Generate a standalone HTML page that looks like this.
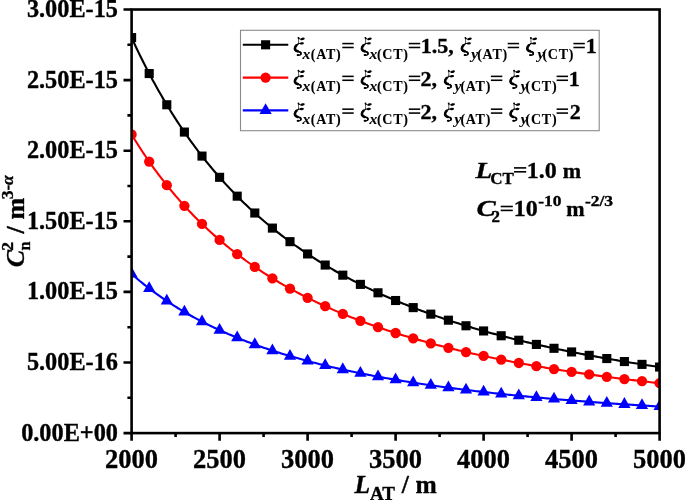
<!DOCTYPE html>
<html><head><meta charset="utf-8"><style>
html,body{margin:0;padding:0;background:#fff;width:685px;height:500px;overflow:hidden}
svg{display:block;will-change:transform}
text{font-family:"Liberation Serif",serif;font-weight:bold;stroke:#000;stroke-width:0.35px}
</style></head><body>
<svg width="685" height="500" viewBox="0 0 685 500">
<defs><clipPath id="pc"><rect x="131.60" y="9.50" width="528.00" height="423.60"/></clipPath></defs>

<g clip-path="url(#pc)">
<polyline fill="none" stroke="#000000" stroke-width="2.1" stroke-linejoin="round" points="131.60,37.60 133.36,41.43 135.12,45.21 136.88,48.93 138.64,52.60 140.40,56.22 142.16,59.78 143.92,63.30 145.68,66.76 147.44,70.18 149.20,73.55 150.96,76.87 152.72,80.14 154.48,83.37 156.24,86.55 158.00,89.69 159.76,92.79 161.52,95.85 163.28,98.86 165.04,101.84 166.80,104.77 168.56,107.67 170.32,110.52 172.08,113.34 173.84,116.13 175.60,118.87 177.36,121.58 179.12,124.25 180.88,126.89 182.64,129.50 184.40,132.07 186.16,134.61 187.92,137.12 189.68,139.60 191.44,142.04 193.20,144.46 194.96,146.84 196.72,149.19 198.48,151.52 200.24,153.81 202.00,156.08 203.76,158.32 205.52,160.54 207.28,162.72 209.04,164.88 210.80,167.02 212.56,169.12 214.32,171.21 216.08,173.27 217.84,175.30 219.60,177.31 221.36,179.30 223.12,181.26 224.88,183.20 226.64,185.12 228.40,187.01 230.16,188.89 231.92,190.74 233.68,192.57 235.44,194.38 237.20,196.17 238.96,197.94 240.72,199.69 242.48,201.42 244.24,203.13 246.00,204.82 247.76,206.50 249.52,208.15 251.28,209.79 253.04,211.41 254.80,213.01 256.56,214.59 258.32,216.16 260.08,217.71 261.84,219.24 263.60,220.75 265.36,222.25 267.12,223.74 268.88,225.21 270.64,226.66 272.40,228.10 274.16,229.52 275.92,230.93 277.68,232.32 279.44,233.70 281.20,235.06 282.96,236.41 284.72,237.75 286.48,239.07 288.24,240.38 290.00,241.68 291.76,242.96 293.52,244.23 295.28,245.49 297.04,246.73 298.80,247.96 300.56,249.18 302.32,250.39 304.08,251.58 305.84,252.77 307.60,253.94 309.36,255.10 311.12,256.25 312.88,257.39 314.64,258.51 316.40,259.63 318.16,260.74 319.92,261.83 321.68,262.92 323.44,263.99 325.20,265.05 326.96,266.11 328.72,267.15 330.48,268.18 332.24,269.21 334.00,270.22 335.76,271.23 337.52,272.22 339.28,273.21 341.04,274.19 342.80,275.16 344.56,276.12 346.32,277.07 348.08,278.01 349.84,278.94 351.60,279.87 353.36,280.78 355.12,281.69 356.88,282.59 358.64,283.48 360.40,284.37 362.16,285.25 363.92,286.11 365.68,286.97 367.44,287.83 369.20,288.67 370.96,289.51 372.72,290.34 374.48,291.17 376.24,291.98 378.00,292.79 379.76,293.59 381.52,294.39 383.28,295.18 385.04,295.96 386.80,296.74 388.56,297.50 390.32,298.27 392.08,299.02 393.84,299.77 395.60,300.51 397.36,301.25 399.12,301.98 400.88,302.71 402.64,303.43 404.40,304.14 406.16,304.84 407.92,305.54 409.68,306.24 411.44,306.93 413.20,307.61 414.96,308.29 416.72,308.96 418.48,309.63 420.24,310.29 422.00,310.95 423.76,311.60 425.52,312.24 427.28,312.89 429.04,313.52 430.80,314.15 432.56,314.78 434.32,315.40 436.08,316.01 437.84,316.62 439.60,317.23 441.36,317.83 443.12,318.43 444.88,319.02 446.64,319.60 448.40,320.19 450.16,320.77 451.92,321.34 453.68,321.91 455.44,322.47 457.20,323.03 458.96,323.59 460.72,324.14 462.48,324.69 464.24,325.23 466.00,325.77 467.76,326.31 469.52,326.84 471.28,327.37 473.04,327.89 474.80,328.41 476.56,328.93 478.32,329.44 480.08,329.95 481.84,330.45 483.60,330.95 485.36,331.45 487.12,331.94 488.88,332.43 490.64,332.92 492.40,333.40 494.16,333.88 495.92,334.35 497.68,334.83 499.44,335.29 501.20,335.76 502.96,336.22 504.72,336.68 506.48,337.14 508.24,337.59 510.00,338.04 511.76,338.48 513.52,338.93 515.28,339.36 517.04,339.80 518.80,340.23 520.56,340.66 522.32,341.09 524.08,341.52 525.84,341.94 527.60,342.36 529.36,342.77 531.12,343.18 532.88,343.59 534.64,344.00 536.40,344.41 538.16,344.81 539.92,345.21 541.68,345.60 543.44,346.00 545.20,346.39 546.96,346.77 548.72,347.16 550.48,347.54 552.24,347.92 554.00,348.30 555.76,348.68 557.52,349.05 559.28,349.42 561.04,349.79 562.80,350.15 564.56,350.51 566.32,350.87 568.08,351.23 569.84,351.59 571.60,351.94 573.36,352.29 575.12,352.64 576.88,352.99 578.64,353.33 580.40,353.67 582.16,354.01 583.92,354.35 585.68,354.69 587.44,355.02 589.20,355.35 590.96,355.68 592.72,356.01 594.48,356.33 596.24,356.65 598.00,356.98 599.76,357.29 601.52,357.61 603.28,357.93 605.04,358.24 606.80,358.55 608.56,358.86 610.32,359.16 612.08,359.47 613.84,359.77 615.60,360.07 617.36,360.37 619.12,360.67 620.88,360.97 622.64,361.26 624.40,361.55 626.16,361.84 627.92,362.13 629.68,362.42 631.44,362.70 633.20,362.99 634.96,363.27 636.72,363.55 638.48,363.83 640.24,364.10 642.00,364.38 643.76,364.65 645.52,364.92 647.28,365.19 649.04,365.46 650.80,365.73 652.56,365.99 654.32,366.25 656.08,366.52 657.84,366.78 659.60,367.04"/>
<g fill="#000000"><rect x="127.05" y="33.05" width="9.10" height="9.10"/><rect x="144.65" y="69.00" width="9.10" height="9.10"/><rect x="162.25" y="100.22" width="9.10" height="9.10"/><rect x="179.85" y="127.52" width="9.10" height="9.10"/><rect x="197.45" y="151.53" width="9.10" height="9.10"/><rect x="215.05" y="172.76" width="9.10" height="9.10"/><rect x="232.65" y="191.62" width="9.10" height="9.10"/><rect x="250.25" y="208.46" width="9.10" height="9.10"/><rect x="267.85" y="223.55" width="9.10" height="9.10"/><rect x="285.45" y="237.13" width="9.10" height="9.10"/><rect x="303.05" y="249.39" width="9.10" height="9.10"/><rect x="320.65" y="260.50" width="9.10" height="9.10"/><rect x="338.25" y="270.61" width="9.10" height="9.10"/><rect x="355.85" y="279.82" width="9.10" height="9.10"/><rect x="373.45" y="288.24" width="9.10" height="9.10"/><rect x="391.05" y="295.96" width="9.10" height="9.10"/><rect x="408.65" y="303.06" width="9.10" height="9.10"/><rect x="426.25" y="309.60" width="9.10" height="9.10"/><rect x="443.85" y="315.64" width="9.10" height="9.10"/><rect x="461.45" y="321.22" width="9.10" height="9.10"/><rect x="479.05" y="326.40" width="9.10" height="9.10"/><rect x="496.65" y="331.21" width="9.10" height="9.10"/><rect x="514.25" y="335.68" width="9.10" height="9.10"/><rect x="531.85" y="339.86" width="9.10" height="9.10"/><rect x="549.45" y="343.75" width="9.10" height="9.10"/><rect x="567.05" y="347.39" width="9.10" height="9.10"/><rect x="584.65" y="350.80" width="9.10" height="9.10"/><rect x="602.25" y="354.00" width="9.10" height="9.10"/><rect x="619.85" y="357.00" width="9.10" height="9.10"/><rect x="637.45" y="359.83" width="9.10" height="9.10"/><rect x="655.05" y="362.49" width="9.10" height="9.10"/></g>
<polyline fill="none" stroke="#ff0000" stroke-width="2.1" stroke-linejoin="round" points="131.60,134.46 133.36,137.36 135.12,140.21 136.88,143.02 138.64,145.79 140.40,148.52 142.16,151.21 143.92,153.87 145.68,156.48 147.44,159.06 149.20,161.60 150.96,164.11 152.72,166.58 154.48,169.02 156.24,171.43 158.00,173.80 159.76,176.14 161.52,178.45 163.28,180.72 165.04,182.97 166.80,185.18 168.56,187.37 170.32,189.53 172.08,191.66 173.84,193.76 175.60,195.83 177.36,197.88 179.12,199.89 180.88,201.89 182.64,203.86 184.40,205.80 186.16,207.72 187.92,209.61 189.68,211.48 191.44,213.33 193.20,215.15 194.96,216.95 196.72,218.73 198.48,220.48 200.24,222.22 202.00,223.93 203.76,225.62 205.52,227.29 207.28,228.94 209.04,230.57 210.80,232.18 212.56,233.78 214.32,235.35 216.08,236.90 217.84,238.44 219.60,239.96 221.36,241.46 223.12,242.94 224.88,244.40 226.64,245.85 228.40,247.28 230.16,248.70 231.92,250.10 233.68,251.48 235.44,252.85 237.20,254.20 238.96,255.53 240.72,256.86 242.48,258.16 244.24,259.45 246.00,260.73 247.76,261.99 249.52,263.24 251.28,264.48 253.04,265.70 254.80,266.91 256.56,268.11 258.32,269.29 260.08,270.46 261.84,271.62 263.60,272.76 265.36,273.89 267.12,275.01 268.88,276.12 270.64,277.22 272.40,278.30 274.16,279.38 275.92,280.44 277.68,281.49 279.44,282.53 281.20,283.56 282.96,284.58 284.72,285.59 286.48,286.59 288.24,287.58 290.00,288.56 291.76,289.53 293.52,290.49 295.28,291.43 297.04,292.37 298.80,293.30 300.56,294.23 302.32,295.14 304.08,296.04 305.84,296.93 307.60,297.82 309.36,298.69 311.12,299.56 312.88,300.42 314.64,301.27 316.40,302.12 318.16,302.95 319.92,303.78 321.68,304.60 323.44,305.41 325.20,306.21 326.96,307.01 328.72,307.79 330.48,308.57 332.24,309.35 334.00,310.11 335.76,310.87 337.52,311.62 339.28,312.37 341.04,313.11 342.80,313.84 344.56,314.56 346.32,315.28 348.08,315.99 349.84,316.70 351.60,317.40 353.36,318.09 355.12,318.77 356.88,319.45 358.64,320.13 360.40,320.80 362.16,321.46 363.92,322.11 365.68,322.76 367.44,323.41 369.20,324.05 370.96,324.68 372.72,325.31 374.48,325.93 376.24,326.54 378.00,327.16 379.76,327.76 381.52,328.36 383.28,328.96 385.04,329.55 386.80,330.13 388.56,330.71 390.32,331.29 392.08,331.86 393.84,332.43 395.60,332.99 397.36,333.54 399.12,334.09 400.88,334.64 402.64,335.18 404.40,335.72 406.16,336.26 407.92,336.78 409.68,337.31 411.44,337.83 413.20,338.35 414.96,338.86 416.72,339.37 418.48,339.87 420.24,340.37 422.00,340.86 423.76,341.36 425.52,341.84 427.28,342.33 429.04,342.81 430.80,343.28 432.56,343.76 434.32,344.22 436.08,344.69 437.84,345.15 439.60,345.61 441.36,346.06 443.12,346.51 444.88,346.96 446.64,347.40 448.40,347.84 450.16,348.28 451.92,348.71 453.68,349.14 455.44,349.57 457.20,349.99 458.96,350.41 460.72,350.83 462.48,351.24 464.24,351.65 466.00,352.06 467.76,352.46 469.52,352.86 471.28,353.26 473.04,353.66 474.80,354.05 476.56,354.44 478.32,354.83 480.08,355.21 481.84,355.59 483.60,355.97 485.36,356.34 487.12,356.72 488.88,357.09 490.64,357.45 492.40,357.82 494.16,358.18 495.92,358.54 497.68,358.89 499.44,359.25 501.20,359.60 502.96,359.95 504.72,360.29 506.48,360.64 508.24,360.98 510.00,361.32 511.76,361.66 513.52,361.99 515.28,362.32 517.04,362.65 518.80,362.98 520.56,363.30 522.32,363.63 524.08,363.95 525.84,364.26 527.60,364.58 529.36,364.89 531.12,365.21 532.88,365.52 534.64,365.82 536.40,366.13 538.16,366.43 539.92,366.73 541.68,367.03 543.44,367.33 545.20,367.62 546.96,367.92 548.72,368.21 550.48,368.50 552.24,368.78 554.00,369.07 555.76,369.35 557.52,369.63 559.28,369.91 561.04,370.19 562.80,370.47 564.56,370.74 566.32,371.01 568.08,371.28 569.84,371.55 571.60,371.82 573.36,372.08 575.12,372.35 576.88,372.61 578.64,372.87 580.40,373.13 582.16,373.38 583.92,373.64 585.68,373.89 587.44,374.14 589.20,374.39 590.96,374.64 592.72,374.89 594.48,375.13 596.24,375.38 598.00,375.62 599.76,375.86 601.52,376.10 603.28,376.34 605.04,376.57 606.80,376.81 608.56,377.04 610.32,377.27 612.08,377.50 613.84,377.73 615.60,377.96 617.36,378.19 619.12,378.41 620.88,378.63 622.64,378.85 624.40,379.08 626.16,379.29 627.92,379.51 629.68,379.73 631.44,379.94 633.20,380.16 634.96,380.37 636.72,380.58 638.48,380.79 640.24,381.00 642.00,381.21 643.76,381.41 645.52,381.62 647.28,381.82 649.04,382.03 650.80,382.23 652.56,382.43 654.32,382.63 656.08,382.82 657.84,383.02 659.60,383.22"/>
<g fill="#ff0000"><circle cx="131.60" cy="134.46" r="5.15"/><circle cx="149.20" cy="161.60" r="5.15"/><circle cx="166.80" cy="185.18" r="5.15"/><circle cx="184.40" cy="205.80" r="5.15"/><circle cx="202.00" cy="223.93" r="5.15"/><circle cx="219.60" cy="239.96" r="5.15"/><circle cx="237.20" cy="254.20" r="5.15"/><circle cx="254.80" cy="266.91" r="5.15"/><circle cx="272.40" cy="278.30" r="5.15"/><circle cx="290.00" cy="288.56" r="5.15"/><circle cx="307.60" cy="297.82" r="5.15"/><circle cx="325.20" cy="306.21" r="5.15"/><circle cx="342.80" cy="313.84" r="5.15"/><circle cx="360.40" cy="320.80" r="5.15"/><circle cx="378.00" cy="327.16" r="5.15"/><circle cx="395.60" cy="332.99" r="5.15"/><circle cx="413.20" cy="338.35" r="5.15"/><circle cx="430.80" cy="343.28" r="5.15"/><circle cx="448.40" cy="347.84" r="5.15"/><circle cx="466.00" cy="352.06" r="5.15"/><circle cx="483.60" cy="355.97" r="5.15"/><circle cx="501.20" cy="359.60" r="5.15"/><circle cx="518.80" cy="362.98" r="5.15"/><circle cx="536.40" cy="366.13" r="5.15"/><circle cx="554.00" cy="369.07" r="5.15"/><circle cx="571.60" cy="371.82" r="5.15"/><circle cx="589.20" cy="374.39" r="5.15"/><circle cx="606.80" cy="376.81" r="5.15"/><circle cx="624.40" cy="379.08" r="5.15"/><circle cx="642.00" cy="381.21" r="5.15"/><circle cx="659.60" cy="383.22" r="5.15"/></g>
<polyline fill="none" stroke="#0000ff" stroke-width="2.1" stroke-linejoin="round" points="131.60,273.97 133.36,275.51 135.12,277.03 136.88,278.53 138.64,280.00 140.40,281.46 142.16,282.89 143.92,284.31 145.68,285.70 147.44,287.08 149.20,288.43 150.96,289.77 152.72,291.08 154.48,292.38 156.24,293.66 158.00,294.93 159.76,296.18 161.52,297.40 163.28,298.62 165.04,299.81 166.80,301.00 168.56,302.16 170.32,303.31 172.08,304.44 173.84,305.56 175.60,306.67 177.36,307.76 179.12,308.83 180.88,309.90 182.64,310.94 184.40,311.98 186.16,313.00 187.92,314.01 189.68,315.01 191.44,315.99 193.20,316.96 194.96,317.92 196.72,318.87 198.48,319.80 200.24,320.73 202.00,321.64 203.76,322.54 205.52,323.43 207.28,324.31 209.04,325.18 210.80,326.04 212.56,326.89 214.32,327.73 216.08,328.55 217.84,329.37 219.60,330.18 221.36,330.98 223.12,331.77 224.88,332.55 226.64,333.32 228.40,334.09 230.16,334.84 231.92,335.59 233.68,336.32 235.44,337.05 237.20,337.77 238.96,338.48 240.72,339.19 242.48,339.88 244.24,340.57 246.00,341.25 247.76,341.92 249.52,342.59 251.28,343.25 253.04,343.90 254.80,344.54 256.56,345.18 258.32,345.81 260.08,346.43 261.84,347.05 263.60,347.66 265.36,348.27 267.12,348.86 268.88,349.45 270.64,350.04 272.40,350.62 274.16,351.19 275.92,351.75 277.68,352.31 279.44,352.87 281.20,353.42 282.96,353.96 284.72,354.50 286.48,355.03 288.24,355.56 290.00,356.08 291.76,356.60 293.52,357.11 295.28,357.61 297.04,358.11 298.80,358.61 300.56,359.10 302.32,359.58 304.08,360.07 305.84,360.54 307.60,361.01 309.36,361.48 311.12,361.94 312.88,362.40 314.64,362.85 316.40,363.30 318.16,363.75 319.92,364.19 321.68,364.63 323.44,365.06 325.20,365.49 326.96,365.91 328.72,366.33 330.48,366.75 332.24,367.16 334.00,367.57 335.76,367.97 337.52,368.37 339.28,368.77 341.04,369.16 342.80,369.55 344.56,369.94 346.32,370.32 348.08,370.70 349.84,371.07 351.60,371.45 353.36,371.81 355.12,372.18 356.88,372.54 358.64,372.90 360.40,373.26 362.16,373.61 363.92,373.96 365.68,374.31 367.44,374.65 369.20,374.99 370.96,375.33 372.72,375.66 374.48,375.99 376.24,376.32 378.00,376.65 379.76,376.97 381.52,377.29 383.28,377.61 385.04,377.92 386.80,378.23 388.56,378.54 390.32,378.85 392.08,379.15 393.84,379.45 395.60,379.75 397.36,380.05 399.12,380.34 400.88,380.64 402.64,380.92 404.40,381.21 406.16,381.50 407.92,381.78 409.68,382.06 411.44,382.33 413.20,382.61 414.96,382.88 416.72,383.15 418.48,383.42 420.24,383.69 422.00,383.95 423.76,384.21 425.52,384.47 427.28,384.73 429.04,384.99 430.80,385.24 432.56,385.49 434.32,385.74 436.08,385.99 437.84,386.23 439.60,386.48 441.36,386.72 443.12,386.96 444.88,387.20 446.64,387.43 448.40,387.67 450.16,387.90 451.92,388.13 453.68,388.36 455.44,388.59 457.20,388.81 458.96,389.04 460.72,389.26 462.48,389.48 464.24,389.70 466.00,389.92 467.76,390.13 469.52,390.35 471.28,390.56 473.04,390.77 474.80,390.98 476.56,391.18 478.32,391.39 480.08,391.60 481.84,391.80 483.60,392.00 485.36,392.20 487.12,392.40 488.88,392.59 490.64,392.79 492.40,392.98 494.16,393.18 495.92,393.37 497.68,393.56 499.44,393.75 501.20,393.93 502.96,394.12 504.72,394.30 506.48,394.49 508.24,394.67 510.00,394.85 511.76,395.03 513.52,395.21 515.28,395.39 517.04,395.56 518.80,395.74 520.56,395.91 522.32,396.08 524.08,396.25 525.84,396.42 527.60,396.59 529.36,396.76 531.12,396.92 532.88,397.09 534.64,397.25 536.40,397.41 538.16,397.57 539.92,397.74 541.68,397.89 543.44,398.05 545.20,398.21 546.96,398.37 548.72,398.52 550.48,398.68 552.24,398.83 554.00,398.98 555.76,399.13 557.52,399.28 559.28,399.43 561.04,399.58 562.80,399.72 564.56,399.87 566.32,400.02 568.08,400.16 569.84,400.30 571.60,400.45 573.36,400.59 575.12,400.73 576.88,400.87 578.64,401.00 580.40,401.14 582.16,401.28 583.92,401.41 585.68,401.55 587.44,401.68 589.20,401.82 590.96,401.95 592.72,402.08 594.48,402.21 596.24,402.34 598.00,402.47 599.76,402.60 601.52,402.73 603.28,402.85 605.04,402.98 606.80,403.10 608.56,403.23 610.32,403.35 612.08,403.47 613.84,403.60 615.60,403.72 617.36,403.84 619.12,403.96 620.88,404.08 622.64,404.19 624.40,404.31 626.16,404.43 627.92,404.55 629.68,404.66 631.44,404.78 633.20,404.89 634.96,405.00 636.72,405.11 638.48,405.23 640.24,405.34 642.00,405.45 643.76,405.56 645.52,405.67 647.28,405.78 649.04,405.88 650.80,405.99 652.56,406.10 654.32,406.20 656.08,406.31 657.84,406.41 659.60,406.52"/>
<g fill="#0000ff"><path d="M131.60 266.77L137.70 277.57L125.50 277.57Z"/><path d="M149.20 281.23L155.30 292.03L143.10 292.03Z"/><path d="M166.80 293.80L172.90 304.60L160.70 304.60Z"/><path d="M184.40 304.78L190.50 315.58L178.30 315.58Z"/><path d="M202.00 314.44L208.10 325.24L195.90 325.24Z"/><path d="M219.60 322.98L225.70 333.78L213.50 333.78Z"/><path d="M237.20 330.57L243.30 341.37L231.10 341.37Z"/><path d="M254.80 337.34L260.90 348.14L248.70 348.14Z"/><path d="M272.40 343.42L278.50 354.22L266.30 354.22Z"/><path d="M290.00 348.88L296.10 359.68L283.90 359.68Z"/><path d="M307.60 353.81L313.70 364.61L301.50 364.61Z"/><path d="M325.20 358.29L331.30 369.09L319.10 369.09Z"/><path d="M342.80 362.35L348.90 373.15L336.70 373.15Z"/><path d="M360.40 366.06L366.50 376.86L354.30 376.86Z"/><path d="M378.00 369.45L384.10 380.25L371.90 380.25Z"/><path d="M395.60 372.55L401.70 383.35L389.50 383.35Z"/><path d="M413.20 375.41L419.30 386.21L407.10 386.21Z"/><path d="M430.80 378.04L436.90 388.84L424.70 388.84Z"/><path d="M448.40 380.47L454.50 391.27L442.30 391.27Z"/><path d="M466.00 382.72L472.10 393.52L459.90 393.52Z"/><path d="M483.60 384.80L489.70 395.60L477.50 395.60Z"/><path d="M501.20 386.73L507.30 397.53L495.10 397.53Z"/><path d="M518.80 388.54L524.90 399.34L512.70 399.34Z"/><path d="M536.40 390.21L542.50 401.01L530.30 401.01Z"/><path d="M554.00 391.78L560.10 402.58L547.90 402.58Z"/><path d="M571.60 393.25L577.70 404.05L565.50 404.05Z"/><path d="M589.20 394.62L595.30 405.42L583.10 405.42Z"/><path d="M606.80 395.90L612.90 406.70L600.70 406.70Z"/><path d="M624.40 397.11L630.50 407.91L618.30 407.91Z"/><path d="M642.00 398.25L648.10 409.05L635.90 409.05Z"/><path d="M659.60 399.32L665.70 410.12L653.50 410.12Z"/></g>
</g>
<rect x="131.60" y="9.50" width="528.00" height="423.60" fill="none" stroke="#000" stroke-width="2.6"/>
<path d="M123.50 433.10H131.60M127.40 397.80H131.60M123.50 362.50H131.60M127.40 327.20H131.60M123.50 291.90H131.60M127.40 256.60H131.60M123.50 221.30H131.60M127.40 186.00H131.60M123.50 150.70H131.60M127.40 115.40H131.60M123.50 80.10H131.60M127.40 44.80H131.60M123.50 9.50H131.60M131.60 433.10V440.70M175.60 433.10V437.10M219.60 433.10V440.70M263.60 433.10V437.10M307.60 433.10V440.70M351.60 433.10V437.10M395.60 433.10V440.70M439.60 433.10V437.10M483.60 433.10V440.70M527.60 433.10V437.10M571.60 433.10V440.70M615.60 433.10V437.10M659.60 433.10V440.70" stroke="#000" stroke-width="2.6" fill="none"/>
<text transform="translate(118,440.60) scale(1,1.05)" font-size="24.3" text-anchor="end">0.00E+00</text>
<text transform="translate(118,370.00) scale(1,1.05)" font-size="24.3" text-anchor="end">5.00E-16</text>
<text transform="translate(118,299.40) scale(1,1.05)" font-size="24.3" text-anchor="end">1.00E-15</text>
<text transform="translate(118,228.80) scale(1,1.05)" font-size="24.3" text-anchor="end">1.50E-15</text>
<text transform="translate(118,158.20) scale(1,1.05)" font-size="24.3" text-anchor="end">2.00E-15</text>
<text transform="translate(118,87.60) scale(1,1.05)" font-size="24.3" text-anchor="end">2.50E-15</text>
<text transform="translate(118,17.00) scale(1,1.05)" font-size="24.3" text-anchor="end">3.00E-15</text>
<text x="131.60" y="468" font-size="26.5" text-anchor="middle">2000</text>
<text x="219.60" y="468" font-size="26.5" text-anchor="middle">2500</text>
<text x="307.60" y="468" font-size="26.5" text-anchor="middle">3000</text>
<text x="395.60" y="468" font-size="26.5" text-anchor="middle">3500</text>
<text x="483.60" y="468" font-size="26.5" text-anchor="middle">4000</text>
<text x="571.60" y="468" font-size="26.5" text-anchor="middle">4500</text>
<text x="659.60" y="468" font-size="26.5" text-anchor="middle">5000</text>
<text x="354.49" y="492.50" font-size="25.50" font-style="italic">L</text>
<text x="370.01" y="499.60" font-size="19.00">AT</text>
<text x="401.75" y="492.50" font-size="25.50">/</text>
<text x="415.62" y="492.50" font-size="25.50">m</text>
<g transform="translate(23.6,266.3) rotate(-90)"><text x="-0.89" y="0.00" font-size="26.00" font-style="italic">C</text><text x="15.47" y="-11.00" font-size="17.50">2</text><text x="15.77" y="6.20" font-size="16.00">n</text><text x="32.75" y="0.00" font-size="26.00">/</text><text x="46.70" y="0.00" font-size="26.00">m</text><text x="67.14" y="-11.00" font-size="17.50">3-</text><text x="81.37" y="-11.00" font-size="17.50" font-style="italic">α</text></g>
<text transform="translate(475.50,177.80) scale(1.140,1)" font-size="24.00" font-style="italic">L</text>
<text x="490.17" y="184.30" font-size="17.00">CT</text>
<rect x="514.00" y="167.10" width="12.20" height="1.60"/><rect x="514.00" y="171.00" width="12.20" height="1.60"/>
<text x="526.68" y="177.80" font-size="24.00">1.0</text>
<text x="562.71" y="177.80" font-size="22.00">m</text>
<text transform="translate(476.42,216.40) scale(1.200,1)" font-size="24.00" font-style="italic">C</text>
<text x="491.59" y="221.60" font-size="17.00">2</text>
<rect x="500.70" y="205.70" width="12.10" height="1.60"/><rect x="500.70" y="209.60" width="12.10" height="1.60"/>
<text x="513.68" y="216.40" font-size="24.00">10</text>
<text transform="translate(538.26,206.30) scale(1.200,1)" font-size="14.50">-10</text>
<text x="566.31" y="216.40" font-size="22.00">m</text>
<text transform="translate(584.96,206.30) scale(1.200,1)" font-size="14.50">-2/3</text>
<rect x="240.5" y="30.3" width="358.7" height="100.4" fill="#fff" stroke="#8a8a8a" stroke-width="1.1"/>
<line x1="242.8" x2="288.3" y1="44.8" y2="44.8" stroke="#000" stroke-width="2.1"/>
<rect x="261.05" y="40.25" width="9.10" height="9.10" fill="#000"/>
<g transform="translate(293.30,53.00) scale(1.000)" fill="#000" stroke="#000" stroke-linecap="round"><path d="M5.0,-15.3 C5.3,-14.6 6.0,-14.0 7.2,-13.8 C8.4,-13.7 9.6,-13.9 10.8,-14.4" stroke-width="0.9" fill="none"/><ellipse cx="9.2" cy="-14.1" rx="2.1" ry="1.25" transform="rotate(-14 9.2 -14.1)" stroke="none"/><ellipse cx="5.2" cy="-15.1" rx="0.9" ry="1.0" stroke="none"/><path d="M5.2,-14.6 C5.3,-13.0 5.2,-11.3 5.4,-9.8" stroke-width="0.7" fill="none"/><path d="M5.0,-9.5 C6.5,-9.3 8.3,-9.4 10.0,-9.8" stroke-width="0.9" fill="none"/><ellipse cx="8.4" cy="-9.6" rx="2.0" ry="1.15" transform="rotate(-6 8.4 -9.6)" stroke="none"/><path d="M5.2,-9.2 C2.6,-8.2 1.5,-6.4 1.5,-4.6 C1.5,-2.8 3.0,-1.9 5.0,-1.5 C7.0,-1.1 7.9,-0.3 7.7,0.8 C7.4,2.0 5.8,2.5 4.2,2.2" stroke-width="1.3" fill="none"/><path d="M3.1,-7.7 C2.0,-6.6 1.6,-5.6 1.6,-4.6 C1.6,-3.0 2.6,-2.2 4.4,-1.7" stroke-width="2.6" fill="none"/><path d="M6.6,-1.1 C7.6,-0.6 7.8,0.3 7.5,1.1" stroke-width="1.7" fill="none"/><ellipse cx="4.8" cy="2.1" rx="1.45" ry="1.0" stroke="none"/></g>
<text x="302.39" y="58.50" font-size="15.50" font-style="italic" style="stroke-width:0.1px">x</text>
<text x="310.78" y="58.50" font-size="14.00" letter-spacing="0.75" style="stroke-width:0.1px">(AT)</text>
<rect x="342.30" y="42.80" width="11.40" height="1.55"/><rect x="342.30" y="46.70" width="11.40" height="1.55"/>
<g transform="translate(360.30,53.00) scale(1.000)" fill="#000" stroke="#000" stroke-linecap="round"><path d="M5.0,-15.3 C5.3,-14.6 6.0,-14.0 7.2,-13.8 C8.4,-13.7 9.6,-13.9 10.8,-14.4" stroke-width="0.9" fill="none"/><ellipse cx="9.2" cy="-14.1" rx="2.1" ry="1.25" transform="rotate(-14 9.2 -14.1)" stroke="none"/><ellipse cx="5.2" cy="-15.1" rx="0.9" ry="1.0" stroke="none"/><path d="M5.2,-14.6 C5.3,-13.0 5.2,-11.3 5.4,-9.8" stroke-width="0.7" fill="none"/><path d="M5.0,-9.5 C6.5,-9.3 8.3,-9.4 10.0,-9.8" stroke-width="0.9" fill="none"/><ellipse cx="8.4" cy="-9.6" rx="2.0" ry="1.15" transform="rotate(-6 8.4 -9.6)" stroke="none"/><path d="M5.2,-9.2 C2.6,-8.2 1.5,-6.4 1.5,-4.6 C1.5,-2.8 3.0,-1.9 5.0,-1.5 C7.0,-1.1 7.9,-0.3 7.7,0.8 C7.4,2.0 5.8,2.5 4.2,2.2" stroke-width="1.3" fill="none"/><path d="M3.1,-7.7 C2.0,-6.6 1.6,-5.6 1.6,-4.6 C1.6,-3.0 2.6,-2.2 4.4,-1.7" stroke-width="2.6" fill="none"/><path d="M6.6,-1.1 C7.6,-0.6 7.8,0.3 7.5,1.1" stroke-width="1.7" fill="none"/><ellipse cx="4.8" cy="2.1" rx="1.45" ry="1.0" stroke="none"/></g>
<text x="369.39" y="58.50" font-size="15.50" font-style="italic" style="stroke-width:0.1px">x</text>
<text x="376.88" y="58.50" font-size="14.00" letter-spacing="0.75" style="stroke-width:0.1px">(CT)</text>
<rect x="408.80" y="42.80" width="11.40" height="1.55"/><rect x="408.80" y="46.70" width="11.40" height="1.55"/>
<text x="420.74" y="53.00" font-size="22.00">1.5,</text>
<g transform="translate(460.30,53.00) scale(1.000)" fill="#000" stroke="#000" stroke-linecap="round"><path d="M5.0,-15.3 C5.3,-14.6 6.0,-14.0 7.2,-13.8 C8.4,-13.7 9.6,-13.9 10.8,-14.4" stroke-width="0.9" fill="none"/><ellipse cx="9.2" cy="-14.1" rx="2.1" ry="1.25" transform="rotate(-14 9.2 -14.1)" stroke="none"/><ellipse cx="5.2" cy="-15.1" rx="0.9" ry="1.0" stroke="none"/><path d="M5.2,-14.6 C5.3,-13.0 5.2,-11.3 5.4,-9.8" stroke-width="0.7" fill="none"/><path d="M5.0,-9.5 C6.5,-9.3 8.3,-9.4 10.0,-9.8" stroke-width="0.9" fill="none"/><ellipse cx="8.4" cy="-9.6" rx="2.0" ry="1.15" transform="rotate(-6 8.4 -9.6)" stroke="none"/><path d="M5.2,-9.2 C2.6,-8.2 1.5,-6.4 1.5,-4.6 C1.5,-2.8 3.0,-1.9 5.0,-1.5 C7.0,-1.1 7.9,-0.3 7.7,0.8 C7.4,2.0 5.8,2.5 4.2,2.2" stroke-width="1.3" fill="none"/><path d="M3.1,-7.7 C2.0,-6.6 1.6,-5.6 1.6,-4.6 C1.6,-3.0 2.6,-2.2 4.4,-1.7" stroke-width="2.6" fill="none"/><path d="M6.6,-1.1 C7.6,-0.6 7.8,0.3 7.5,1.1" stroke-width="1.7" fill="none"/><ellipse cx="4.8" cy="2.1" rx="1.45" ry="1.0" stroke="none"/></g>
<text x="471.35" y="58.50" font-size="15.50" font-style="italic" style="stroke-width:0.1px">y</text>
<text x="477.18" y="58.50" font-size="14.00" letter-spacing="0.75" style="stroke-width:0.1px">(AT)</text>
<rect x="507.70" y="42.80" width="11.40" height="1.55"/><rect x="507.70" y="46.70" width="11.40" height="1.55"/>
<g transform="translate(525.70,53.00) scale(1.000)" fill="#000" stroke="#000" stroke-linecap="round"><path d="M5.0,-15.3 C5.3,-14.6 6.0,-14.0 7.2,-13.8 C8.4,-13.7 9.6,-13.9 10.8,-14.4" stroke-width="0.9" fill="none"/><ellipse cx="9.2" cy="-14.1" rx="2.1" ry="1.25" transform="rotate(-14 9.2 -14.1)" stroke="none"/><ellipse cx="5.2" cy="-15.1" rx="0.9" ry="1.0" stroke="none"/><path d="M5.2,-14.6 C5.3,-13.0 5.2,-11.3 5.4,-9.8" stroke-width="0.7" fill="none"/><path d="M5.0,-9.5 C6.5,-9.3 8.3,-9.4 10.0,-9.8" stroke-width="0.9" fill="none"/><ellipse cx="8.4" cy="-9.6" rx="2.0" ry="1.15" transform="rotate(-6 8.4 -9.6)" stroke="none"/><path d="M5.2,-9.2 C2.6,-8.2 1.5,-6.4 1.5,-4.6 C1.5,-2.8 3.0,-1.9 5.0,-1.5 C7.0,-1.1 7.9,-0.3 7.7,0.8 C7.4,2.0 5.8,2.5 4.2,2.2" stroke-width="1.3" fill="none"/><path d="M3.1,-7.7 C2.0,-6.6 1.6,-5.6 1.6,-4.6 C1.6,-3.0 2.6,-2.2 4.4,-1.7" stroke-width="2.6" fill="none"/><path d="M6.6,-1.1 C7.6,-0.6 7.8,0.3 7.5,1.1" stroke-width="1.7" fill="none"/><ellipse cx="4.8" cy="2.1" rx="1.45" ry="1.0" stroke="none"/></g>
<text x="537.55" y="58.50" font-size="15.50" font-style="italic" style="stroke-width:0.1px">y</text>
<text x="542.38" y="58.50" font-size="14.00" letter-spacing="0.75" style="stroke-width:0.1px">(CT)</text>
<rect x="573.40" y="42.80" width="11.40" height="1.55"/><rect x="573.40" y="46.70" width="11.40" height="1.55"/>
<text x="585.64" y="53.00" font-size="22.00">1</text>
<line x1="242.8" x2="288.3" y1="77.6" y2="77.6" stroke="#f00" stroke-width="2.1"/>
<circle cx="265.60" cy="77.60" r="5.15" fill="#f00"/>
<g transform="translate(293.30,85.80) scale(1.000)" fill="#000" stroke="#000" stroke-linecap="round"><path d="M5.0,-15.3 C5.3,-14.6 6.0,-14.0 7.2,-13.8 C8.4,-13.7 9.6,-13.9 10.8,-14.4" stroke-width="0.9" fill="none"/><ellipse cx="9.2" cy="-14.1" rx="2.1" ry="1.25" transform="rotate(-14 9.2 -14.1)" stroke="none"/><ellipse cx="5.2" cy="-15.1" rx="0.9" ry="1.0" stroke="none"/><path d="M5.2,-14.6 C5.3,-13.0 5.2,-11.3 5.4,-9.8" stroke-width="0.7" fill="none"/><path d="M5.0,-9.5 C6.5,-9.3 8.3,-9.4 10.0,-9.8" stroke-width="0.9" fill="none"/><ellipse cx="8.4" cy="-9.6" rx="2.0" ry="1.15" transform="rotate(-6 8.4 -9.6)" stroke="none"/><path d="M5.2,-9.2 C2.6,-8.2 1.5,-6.4 1.5,-4.6 C1.5,-2.8 3.0,-1.9 5.0,-1.5 C7.0,-1.1 7.9,-0.3 7.7,0.8 C7.4,2.0 5.8,2.5 4.2,2.2" stroke-width="1.3" fill="none"/><path d="M3.1,-7.7 C2.0,-6.6 1.6,-5.6 1.6,-4.6 C1.6,-3.0 2.6,-2.2 4.4,-1.7" stroke-width="2.6" fill="none"/><path d="M6.6,-1.1 C7.6,-0.6 7.8,0.3 7.5,1.1" stroke-width="1.7" fill="none"/><ellipse cx="4.8" cy="2.1" rx="1.45" ry="1.0" stroke="none"/></g>
<text x="302.39" y="91.30" font-size="15.50" font-style="italic" style="stroke-width:0.1px">x</text>
<text x="310.78" y="91.30" font-size="14.00" letter-spacing="0.75" style="stroke-width:0.1px">(AT)</text>
<rect x="342.30" y="75.60" width="11.40" height="1.55"/><rect x="342.30" y="79.50" width="11.40" height="1.55"/>
<g transform="translate(360.30,85.80) scale(1.000)" fill="#000" stroke="#000" stroke-linecap="round"><path d="M5.0,-15.3 C5.3,-14.6 6.0,-14.0 7.2,-13.8 C8.4,-13.7 9.6,-13.9 10.8,-14.4" stroke-width="0.9" fill="none"/><ellipse cx="9.2" cy="-14.1" rx="2.1" ry="1.25" transform="rotate(-14 9.2 -14.1)" stroke="none"/><ellipse cx="5.2" cy="-15.1" rx="0.9" ry="1.0" stroke="none"/><path d="M5.2,-14.6 C5.3,-13.0 5.2,-11.3 5.4,-9.8" stroke-width="0.7" fill="none"/><path d="M5.0,-9.5 C6.5,-9.3 8.3,-9.4 10.0,-9.8" stroke-width="0.9" fill="none"/><ellipse cx="8.4" cy="-9.6" rx="2.0" ry="1.15" transform="rotate(-6 8.4 -9.6)" stroke="none"/><path d="M5.2,-9.2 C2.6,-8.2 1.5,-6.4 1.5,-4.6 C1.5,-2.8 3.0,-1.9 5.0,-1.5 C7.0,-1.1 7.9,-0.3 7.7,0.8 C7.4,2.0 5.8,2.5 4.2,2.2" stroke-width="1.3" fill="none"/><path d="M3.1,-7.7 C2.0,-6.6 1.6,-5.6 1.6,-4.6 C1.6,-3.0 2.6,-2.2 4.4,-1.7" stroke-width="2.6" fill="none"/><path d="M6.6,-1.1 C7.6,-0.6 7.8,0.3 7.5,1.1" stroke-width="1.7" fill="none"/><ellipse cx="4.8" cy="2.1" rx="1.45" ry="1.0" stroke="none"/></g>
<text x="369.39" y="91.30" font-size="15.50" font-style="italic" style="stroke-width:0.1px">x</text>
<text x="376.88" y="91.30" font-size="14.00" letter-spacing="0.75" style="stroke-width:0.1px">(CT)</text>
<rect x="408.80" y="75.60" width="11.40" height="1.55"/><rect x="408.80" y="79.50" width="11.40" height="1.55"/>
<text x="420.58" y="85.80" font-size="22.00">2,</text>
<g transform="translate(443.50,85.80) scale(1.000)" fill="#000" stroke="#000" stroke-linecap="round"><path d="M5.0,-15.3 C5.3,-14.6 6.0,-14.0 7.2,-13.8 C8.4,-13.7 9.6,-13.9 10.8,-14.4" stroke-width="0.9" fill="none"/><ellipse cx="9.2" cy="-14.1" rx="2.1" ry="1.25" transform="rotate(-14 9.2 -14.1)" stroke="none"/><ellipse cx="5.2" cy="-15.1" rx="0.9" ry="1.0" stroke="none"/><path d="M5.2,-14.6 C5.3,-13.0 5.2,-11.3 5.4,-9.8" stroke-width="0.7" fill="none"/><path d="M5.0,-9.5 C6.5,-9.3 8.3,-9.4 10.0,-9.8" stroke-width="0.9" fill="none"/><ellipse cx="8.4" cy="-9.6" rx="2.0" ry="1.15" transform="rotate(-6 8.4 -9.6)" stroke="none"/><path d="M5.2,-9.2 C2.6,-8.2 1.5,-6.4 1.5,-4.6 C1.5,-2.8 3.0,-1.9 5.0,-1.5 C7.0,-1.1 7.9,-0.3 7.7,0.8 C7.4,2.0 5.8,2.5 4.2,2.2" stroke-width="1.3" fill="none"/><path d="M3.1,-7.7 C2.0,-6.6 1.6,-5.6 1.6,-4.6 C1.6,-3.0 2.6,-2.2 4.4,-1.7" stroke-width="2.6" fill="none"/><path d="M6.6,-1.1 C7.6,-0.6 7.8,0.3 7.5,1.1" stroke-width="1.7" fill="none"/><ellipse cx="4.8" cy="2.1" rx="1.45" ry="1.0" stroke="none"/></g>
<text x="454.55" y="91.30" font-size="15.50" font-style="italic" style="stroke-width:0.1px">y</text>
<text x="460.38" y="91.30" font-size="14.00" letter-spacing="0.75" style="stroke-width:0.1px">(AT)</text>
<rect x="490.90" y="75.60" width="11.40" height="1.55"/><rect x="490.90" y="79.50" width="11.40" height="1.55"/>
<g transform="translate(508.90,85.80) scale(1.000)" fill="#000" stroke="#000" stroke-linecap="round"><path d="M5.0,-15.3 C5.3,-14.6 6.0,-14.0 7.2,-13.8 C8.4,-13.7 9.6,-13.9 10.8,-14.4" stroke-width="0.9" fill="none"/><ellipse cx="9.2" cy="-14.1" rx="2.1" ry="1.25" transform="rotate(-14 9.2 -14.1)" stroke="none"/><ellipse cx="5.2" cy="-15.1" rx="0.9" ry="1.0" stroke="none"/><path d="M5.2,-14.6 C5.3,-13.0 5.2,-11.3 5.4,-9.8" stroke-width="0.7" fill="none"/><path d="M5.0,-9.5 C6.5,-9.3 8.3,-9.4 10.0,-9.8" stroke-width="0.9" fill="none"/><ellipse cx="8.4" cy="-9.6" rx="2.0" ry="1.15" transform="rotate(-6 8.4 -9.6)" stroke="none"/><path d="M5.2,-9.2 C2.6,-8.2 1.5,-6.4 1.5,-4.6 C1.5,-2.8 3.0,-1.9 5.0,-1.5 C7.0,-1.1 7.9,-0.3 7.7,0.8 C7.4,2.0 5.8,2.5 4.2,2.2" stroke-width="1.3" fill="none"/><path d="M3.1,-7.7 C2.0,-6.6 1.6,-5.6 1.6,-4.6 C1.6,-3.0 2.6,-2.2 4.4,-1.7" stroke-width="2.6" fill="none"/><path d="M6.6,-1.1 C7.6,-0.6 7.8,0.3 7.5,1.1" stroke-width="1.7" fill="none"/><ellipse cx="4.8" cy="2.1" rx="1.45" ry="1.0" stroke="none"/></g>
<text x="520.75" y="91.30" font-size="15.50" font-style="italic" style="stroke-width:0.1px">y</text>
<text x="525.58" y="91.30" font-size="14.00" letter-spacing="0.75" style="stroke-width:0.1px">(CT)</text>
<rect x="556.60" y="75.60" width="11.40" height="1.55"/><rect x="556.60" y="79.50" width="11.40" height="1.55"/>
<text x="568.84" y="85.80" font-size="22.00">1</text>
<line x1="242.8" x2="288.3" y1="110.4" y2="110.4" stroke="#00f" stroke-width="2.1"/>
<path d="M265.60 103.20L271.70 114.00L259.50 114.00Z" fill="#00f"/>
<g transform="translate(293.30,118.60) scale(1.000)" fill="#000" stroke="#000" stroke-linecap="round"><path d="M5.0,-15.3 C5.3,-14.6 6.0,-14.0 7.2,-13.8 C8.4,-13.7 9.6,-13.9 10.8,-14.4" stroke-width="0.9" fill="none"/><ellipse cx="9.2" cy="-14.1" rx="2.1" ry="1.25" transform="rotate(-14 9.2 -14.1)" stroke="none"/><ellipse cx="5.2" cy="-15.1" rx="0.9" ry="1.0" stroke="none"/><path d="M5.2,-14.6 C5.3,-13.0 5.2,-11.3 5.4,-9.8" stroke-width="0.7" fill="none"/><path d="M5.0,-9.5 C6.5,-9.3 8.3,-9.4 10.0,-9.8" stroke-width="0.9" fill="none"/><ellipse cx="8.4" cy="-9.6" rx="2.0" ry="1.15" transform="rotate(-6 8.4 -9.6)" stroke="none"/><path d="M5.2,-9.2 C2.6,-8.2 1.5,-6.4 1.5,-4.6 C1.5,-2.8 3.0,-1.9 5.0,-1.5 C7.0,-1.1 7.9,-0.3 7.7,0.8 C7.4,2.0 5.8,2.5 4.2,2.2" stroke-width="1.3" fill="none"/><path d="M3.1,-7.7 C2.0,-6.6 1.6,-5.6 1.6,-4.6 C1.6,-3.0 2.6,-2.2 4.4,-1.7" stroke-width="2.6" fill="none"/><path d="M6.6,-1.1 C7.6,-0.6 7.8,0.3 7.5,1.1" stroke-width="1.7" fill="none"/><ellipse cx="4.8" cy="2.1" rx="1.45" ry="1.0" stroke="none"/></g>
<text x="302.39" y="124.10" font-size="15.50" font-style="italic" style="stroke-width:0.1px">x</text>
<text x="310.78" y="124.10" font-size="14.00" letter-spacing="0.75" style="stroke-width:0.1px">(AT)</text>
<rect x="342.30" y="108.40" width="11.40" height="1.55"/><rect x="342.30" y="112.30" width="11.40" height="1.55"/>
<g transform="translate(360.30,118.60) scale(1.000)" fill="#000" stroke="#000" stroke-linecap="round"><path d="M5.0,-15.3 C5.3,-14.6 6.0,-14.0 7.2,-13.8 C8.4,-13.7 9.6,-13.9 10.8,-14.4" stroke-width="0.9" fill="none"/><ellipse cx="9.2" cy="-14.1" rx="2.1" ry="1.25" transform="rotate(-14 9.2 -14.1)" stroke="none"/><ellipse cx="5.2" cy="-15.1" rx="0.9" ry="1.0" stroke="none"/><path d="M5.2,-14.6 C5.3,-13.0 5.2,-11.3 5.4,-9.8" stroke-width="0.7" fill="none"/><path d="M5.0,-9.5 C6.5,-9.3 8.3,-9.4 10.0,-9.8" stroke-width="0.9" fill="none"/><ellipse cx="8.4" cy="-9.6" rx="2.0" ry="1.15" transform="rotate(-6 8.4 -9.6)" stroke="none"/><path d="M5.2,-9.2 C2.6,-8.2 1.5,-6.4 1.5,-4.6 C1.5,-2.8 3.0,-1.9 5.0,-1.5 C7.0,-1.1 7.9,-0.3 7.7,0.8 C7.4,2.0 5.8,2.5 4.2,2.2" stroke-width="1.3" fill="none"/><path d="M3.1,-7.7 C2.0,-6.6 1.6,-5.6 1.6,-4.6 C1.6,-3.0 2.6,-2.2 4.4,-1.7" stroke-width="2.6" fill="none"/><path d="M6.6,-1.1 C7.6,-0.6 7.8,0.3 7.5,1.1" stroke-width="1.7" fill="none"/><ellipse cx="4.8" cy="2.1" rx="1.45" ry="1.0" stroke="none"/></g>
<text x="369.39" y="124.10" font-size="15.50" font-style="italic" style="stroke-width:0.1px">x</text>
<text x="376.88" y="124.10" font-size="14.00" letter-spacing="0.75" style="stroke-width:0.1px">(CT)</text>
<rect x="408.80" y="108.40" width="11.40" height="1.55"/><rect x="408.80" y="112.30" width="11.40" height="1.55"/>
<text x="420.58" y="118.60" font-size="22.00">2,</text>
<g transform="translate(443.50,118.60) scale(1.000)" fill="#000" stroke="#000" stroke-linecap="round"><path d="M5.0,-15.3 C5.3,-14.6 6.0,-14.0 7.2,-13.8 C8.4,-13.7 9.6,-13.9 10.8,-14.4" stroke-width="0.9" fill="none"/><ellipse cx="9.2" cy="-14.1" rx="2.1" ry="1.25" transform="rotate(-14 9.2 -14.1)" stroke="none"/><ellipse cx="5.2" cy="-15.1" rx="0.9" ry="1.0" stroke="none"/><path d="M5.2,-14.6 C5.3,-13.0 5.2,-11.3 5.4,-9.8" stroke-width="0.7" fill="none"/><path d="M5.0,-9.5 C6.5,-9.3 8.3,-9.4 10.0,-9.8" stroke-width="0.9" fill="none"/><ellipse cx="8.4" cy="-9.6" rx="2.0" ry="1.15" transform="rotate(-6 8.4 -9.6)" stroke="none"/><path d="M5.2,-9.2 C2.6,-8.2 1.5,-6.4 1.5,-4.6 C1.5,-2.8 3.0,-1.9 5.0,-1.5 C7.0,-1.1 7.9,-0.3 7.7,0.8 C7.4,2.0 5.8,2.5 4.2,2.2" stroke-width="1.3" fill="none"/><path d="M3.1,-7.7 C2.0,-6.6 1.6,-5.6 1.6,-4.6 C1.6,-3.0 2.6,-2.2 4.4,-1.7" stroke-width="2.6" fill="none"/><path d="M6.6,-1.1 C7.6,-0.6 7.8,0.3 7.5,1.1" stroke-width="1.7" fill="none"/><ellipse cx="4.8" cy="2.1" rx="1.45" ry="1.0" stroke="none"/></g>
<text x="454.55" y="124.10" font-size="15.50" font-style="italic" style="stroke-width:0.1px">y</text>
<text x="460.38" y="124.10" font-size="14.00" letter-spacing="0.75" style="stroke-width:0.1px">(AT)</text>
<rect x="490.90" y="108.40" width="11.40" height="1.55"/><rect x="490.90" y="112.30" width="11.40" height="1.55"/>
<g transform="translate(508.90,118.60) scale(1.000)" fill="#000" stroke="#000" stroke-linecap="round"><path d="M5.0,-15.3 C5.3,-14.6 6.0,-14.0 7.2,-13.8 C8.4,-13.7 9.6,-13.9 10.8,-14.4" stroke-width="0.9" fill="none"/><ellipse cx="9.2" cy="-14.1" rx="2.1" ry="1.25" transform="rotate(-14 9.2 -14.1)" stroke="none"/><ellipse cx="5.2" cy="-15.1" rx="0.9" ry="1.0" stroke="none"/><path d="M5.2,-14.6 C5.3,-13.0 5.2,-11.3 5.4,-9.8" stroke-width="0.7" fill="none"/><path d="M5.0,-9.5 C6.5,-9.3 8.3,-9.4 10.0,-9.8" stroke-width="0.9" fill="none"/><ellipse cx="8.4" cy="-9.6" rx="2.0" ry="1.15" transform="rotate(-6 8.4 -9.6)" stroke="none"/><path d="M5.2,-9.2 C2.6,-8.2 1.5,-6.4 1.5,-4.6 C1.5,-2.8 3.0,-1.9 5.0,-1.5 C7.0,-1.1 7.9,-0.3 7.7,0.8 C7.4,2.0 5.8,2.5 4.2,2.2" stroke-width="1.3" fill="none"/><path d="M3.1,-7.7 C2.0,-6.6 1.6,-5.6 1.6,-4.6 C1.6,-3.0 2.6,-2.2 4.4,-1.7" stroke-width="2.6" fill="none"/><path d="M6.6,-1.1 C7.6,-0.6 7.8,0.3 7.5,1.1" stroke-width="1.7" fill="none"/><ellipse cx="4.8" cy="2.1" rx="1.45" ry="1.0" stroke="none"/></g>
<text x="520.75" y="124.10" font-size="15.50" font-style="italic" style="stroke-width:0.1px">y</text>
<text x="525.58" y="124.10" font-size="14.00" letter-spacing="0.75" style="stroke-width:0.1px">(CT)</text>
<rect x="556.60" y="108.40" width="11.40" height="1.55"/><rect x="556.60" y="112.30" width="11.40" height="1.55"/>
<text x="569.68" y="118.60" font-size="22.00">2</text>
</svg></body></html>
